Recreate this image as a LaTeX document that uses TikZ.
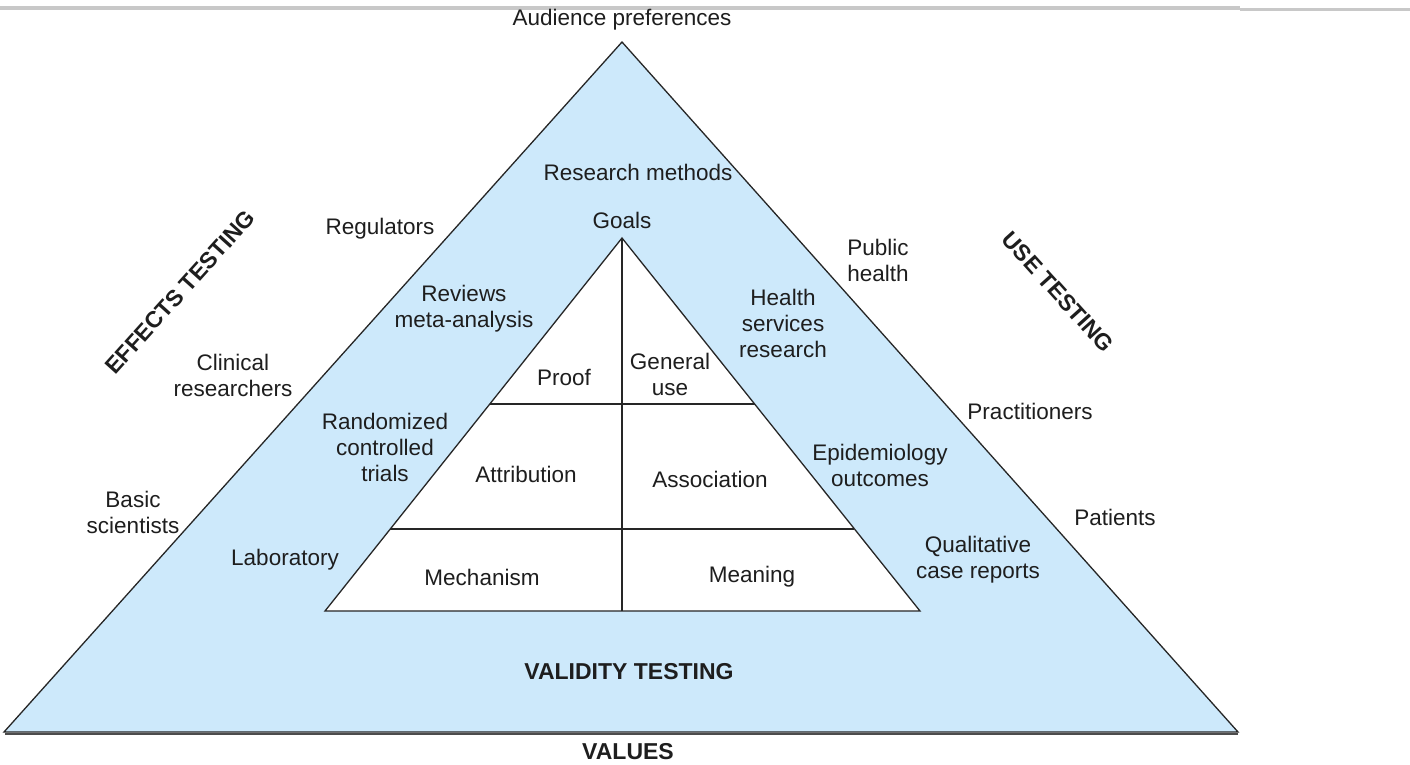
\documentclass[tikz,border=0pt]{standalone}
\usepackage{fontspec}
\setmainfont{Liberation Sans}
\usetikzlibrary{calc}
\definecolor{pyrfill}{RGB}{205,233,251}
\definecolor{txt}{RGB}{30,30,30}
\definecolor{topgrey}{RGB}{200,200,200}
\begin{document}
\begin{tikzpicture}[x=1pt,y=-1pt,
  lbl/.style={text=txt,align=center,inner sep=0pt,font=\fontsize{22.5}{26}\selectfont},
  blbl/.style={text=txt,align=center,inner sep=0pt,font=\fontsize{23}{26}\selectfont\bfseries},
  edge/.style={draw=black!85,line width=1.3pt,line join=miter}]
\useasboundingbox (0,0) rectangle (1410,764);
\fill[white] (0,0) rectangle (1410,764);
\draw[topgrey,line width=3.5pt] (0,8) -- (1240,8);
\draw[topgrey,line width=3pt] (1240,9) -- (1410,9);
% outer triangle
\coordinate (OA) at (622,42);
\coordinate (OL) at (4,732);
\coordinate (OR) at (1238,732);
\filldraw[edge,fill=pyrfill] (OA) -- (OR) -- (OL) -- cycle;
\draw[black!70,line width=1.5pt] ($(OL)+(1,2)$) -- ($(OR)+(0,2)$);
% inner triangle
\coordinate (IA) at (622,238);
\coordinate (IL) at (325,611);
\coordinate (IR) at (920,611);
\coordinate (IB) at (622,611);
\filldraw[edge,fill=white] (IA) -- (IR) -- (IL) -- cycle;
\coordinate (H1L) at ($(IA)!0.445!(IL)$);
\coordinate (H1R) at ($(IA)!0.445!(IR)$);
\coordinate (H2L) at ($(IA)!0.78!(IL)$);
\coordinate (H2R) at ($(IA)!0.78!(IR)$);
\draw[edge,line width=1.1pt] (IA) -- (IB);
\draw[edge,line width=1.1pt] (H1L) -- (H1R);
\draw[edge,line width=1.1pt] (H2L) -- (H2R);
% labels
\node[lbl] (aud) at (622,20) {Audience preferences};
\node[lbl] (rm) at (638,172) {Research methods};
\node[lbl] (goals) at (622,220) {Goals};
\node[lbl] (reg) at (380,229) {Regulators};
\node[blbl,rotate=48] (eff) at (180,292) {EFFECTS TESTING};
\node[blbl,rotate=-48] (use) at (1058,292) {USE TESTING};
\node[lbl] (ph) at (878,260) {Public\\health};
\node[lbl] (rev) at (464,309) {Reviews\\meta-analysis};
\node[lbl] (hsr) at (783,323) {Health\\services\\research};
\node[lbl] (clin) at (233,375) {Clinical\\researchers};
\node[lbl] (proof) at (564,377) {Proof};
\node[lbl] (gu) at (670,374) {General\\use};
\node[lbl] (prac) at (1030,411) {Practitioners};
\node[lbl] (rct) at (385,447) {Randomized\\controlled\\trials};
\node[lbl] (attr) at (526,474) {Attribution};
\node[lbl] (assoc) at (710,479) {Association};
\node[lbl] (epi) at (880,465) {Epidemiology\\outcomes};
\node[lbl] (bs) at (133,512) {Basic\\scientists};
\node[lbl] (pat) at (1115,517) {Patients};
\node[lbl] (lab) at (285,560) {Laboratory};
\node[lbl] (qual) at (978,560) {Qualitative\\case reports};
\node[lbl] (mech) at (482,577) {Mechanism};
\node[lbl] (mean) at (752,577) {Meaning};
\node[blbl] (vt) at (629,672) {VALIDITY TESTING};
\node[blbl] (val) at (628,752) {VALUES};
\end{tikzpicture}
\end{document}
